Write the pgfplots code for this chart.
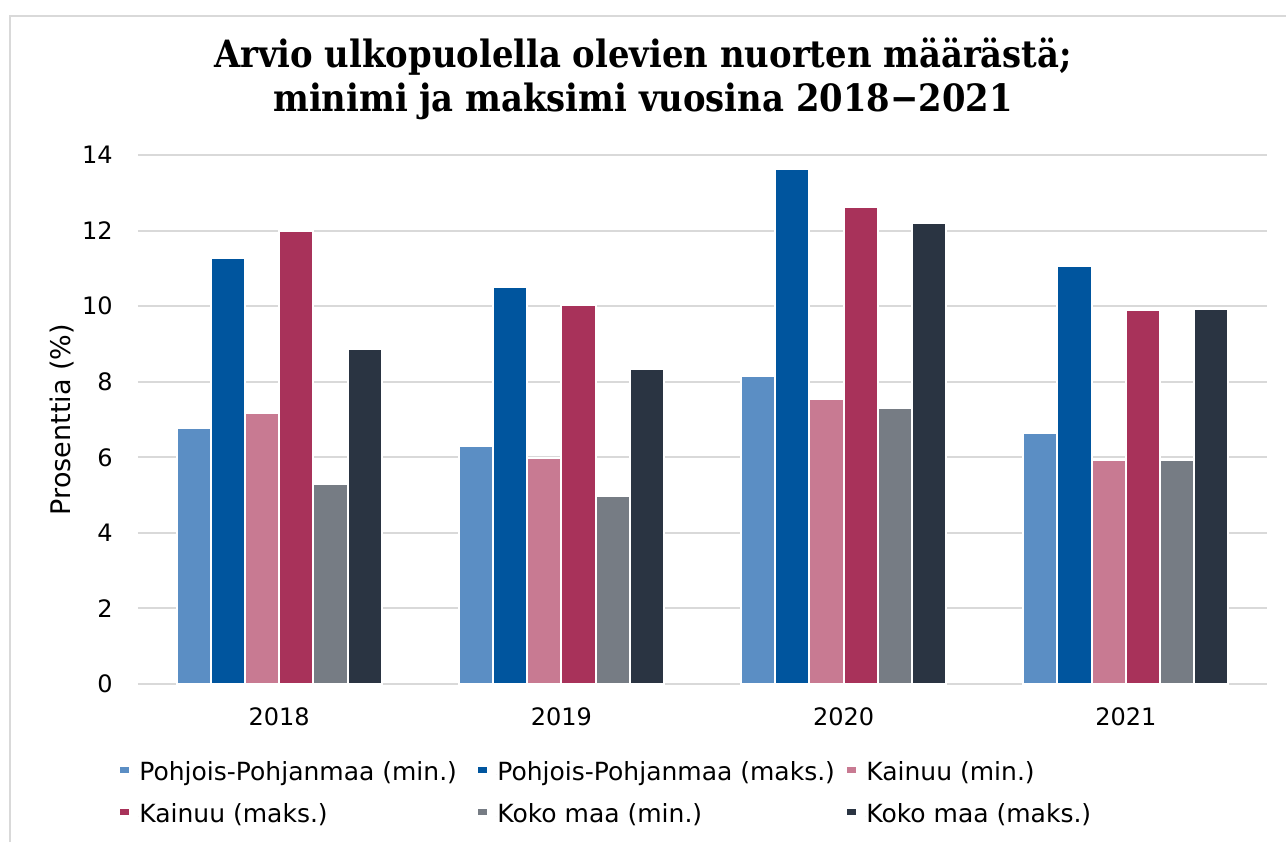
\documentclass[border=0pt]{standalone}
\usepackage{fontspec}
\setmainfont{DejaVu Sans}
\newfontfamily\titlefont{DejaVu Serif Condensed}[BoldFont={DejaVu Serif Condensed Bold}]
\usepackage{pgfplots}
\pgfplotsset{compat=1.18}
\definecolor{ppmin}{HTML}{5B8EC4}
\definecolor{ppmax}{HTML}{00559E}
\definecolor{kamin}{HTML}{C87A92}
\definecolor{kamax}{HTML}{A8325A}
\definecolor{komin}{HTML}{767C84}
\definecolor{komax}{HTML}{2A3442}
\definecolor{gridc}{HTML}{D9D9D9}
\begin{document}
\begin{tikzpicture}
\path[use as bounding box] (-69pt,-79pt) rectangle (574pt,342pt);
\draw[gridc, line width=1pt] (-64pt,-79pt) -- (-64pt,334pt) -- (574pt,334pt);
\node[font=\titlefont\bfseries\fontsize{18.8}{22}\selectfont, anchor=base] at (252.5pt,308pt) {Arvio ulkopuolella olevien nuorten määrästä;};
\node[font=\titlefont\bfseries\fontsize{18.8}{22}\selectfont, anchor=base] at (252.5pt,286pt) {minimi ja maksimi vuosina 2018−2021};
\begin{axis}[
  at={(0pt,0pt)}, anchor=south west,
  scale only axis, width=564.5pt, height=264.5pt,
  ybar=0pt, bar width=17.1pt,
  xmin=-0.5, xmax=3.5, ymin=0, ymax=14,
  xtick={0,1,2,3}, xticklabels={2018,2019,2020,2021},
  ytick={0,2,4,6,8,10,12,14},
  /pgf/number format/assume math mode=true,
  major tick length=0pt,
  ymajorgrids, grid style={gridc, line width=1pt},
  axis x line*=bottom, axis y line*=left,
  x axis line style={gridc, line width=1pt, -},
  y axis line style={draw=none, -},
  tick label style={font=\fontsize{12}{14}\selectfont, text=black},
  xticklabel style={anchor=center, yshift=-16.3pt, inner sep=0pt},
  yticklabel style={anchor=east, xshift=-12.5pt, inner sep=0pt},
  ylabel={Prosenttia (\%)},
  ylabel style={at={(axis description cs:-0.0673,0.5)}, anchor=center, font=\fontsize{13.5}{15}\selectfont},
  every axis plot/.append style={draw=white, line width=1pt},
  legend columns=3, legend cell align=left,
  legend style={at={(-12.5pt,-36.9pt)}, anchor=north west, draw=none, fill=none,
    font=\fontsize{12.5}{14}\selectfont, column sep=0pt, row sep=9pt,
    nodes={inner sep=0pt, text height=9pt, text depth=3pt}},
  legend image code/.code={\fill[#1, draw=none] (0pt,-0.6pt) rectangle (4.4pt,3.8pt); \path (0pt,0pt) -- (9pt,0pt);},
]
\addplot[fill=ppmin] coordinates {(0,6.77) (1,6.30) (2,8.16) (3,6.63)};
\addplot[fill=ppmax] coordinates {(0,11.28) (1,10.51) (2,13.62) (3,11.07)};
\addplot[fill=kamin] coordinates {(0,7.17) (1,5.99) (2,7.55) (3,5.92)};
\addplot[fill=kamax] coordinates {(0,12.00) (1,10.03) (2,12.63) (3,9.89)};
\addplot[fill=komin] coordinates {(0,5.30) (1,4.97) (2,7.31) (3,5.92)};
\addplot[fill=komax] coordinates {(0,8.87) (1,8.33) (2,12.21) (3,9.92)};
\addlegendentry{\makebox[169pt][l]{Pohjois-Pohjanmaa (min.)}}
\addlegendentry{\makebox[174.5pt][l]{Pohjois-Pohjanmaa (maks.)}}
\addlegendentry{Kainuu (min.)}
\addlegendentry{\makebox[169pt][l]{Kainuu (maks.)}}
\addlegendentry{\makebox[174.5pt][l]{Koko maa (min.)}}
\addlegendentry{Koko maa (maks.)}
\end{axis}
\end{tikzpicture}
\end{document}
